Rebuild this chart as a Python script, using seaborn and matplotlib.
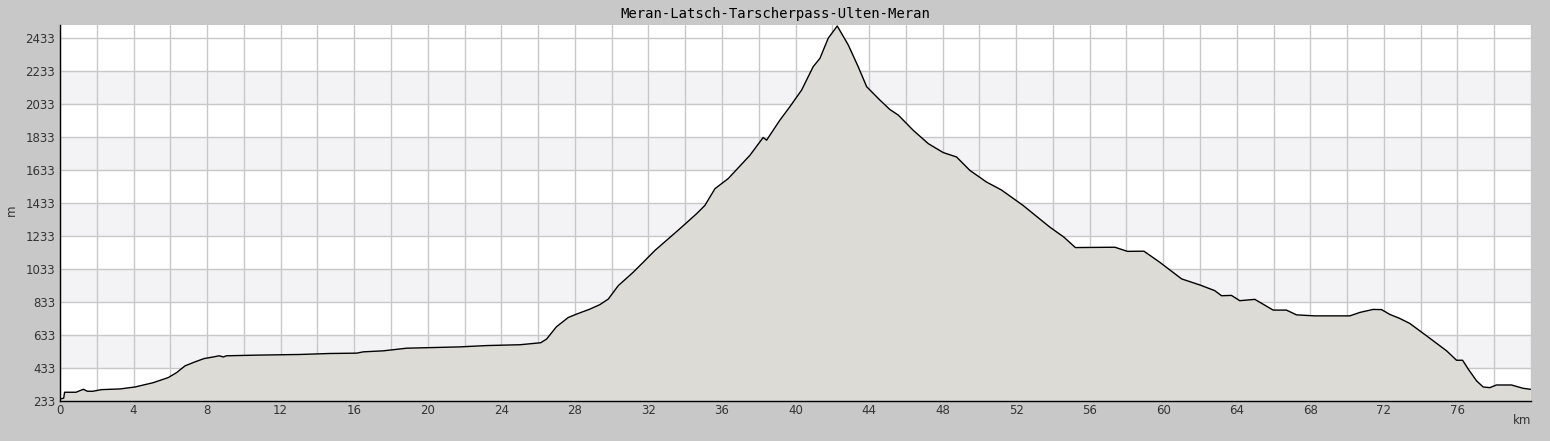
import numpy as np
import pandas as pd
import matplotlib
matplotlib.use("Agg")
import matplotlib.pyplot as plt
import seaborn as sns
from matplotlib.ticker import MultipleLocator, FixedLocator, FuncFormatter

title = "Meran-Latsch-Tarscherpass-Ulten-Meran"

km = [0.0, 0.2, 0.25, 0.87, 1.27, 1.49, 1.78, 2.27, 3.26, 4.08, 5.07, 5.89, 6.34,
      6.80, 7.34, 7.83, 8.34, 8.66, 8.88, 9.06, 10.7, 13.05, 14.68, 16.13, 16.5,
      17.58, 18.85, 21.75, 23.2, 25.01, 26.14, 26.46, 27.0, 27.64, 28.1, 28.82,
      29.36, 29.82, 30.36, 31.17, 31.72, 32.35, 33.71, 34.62, 35.07, 35.62, 36.34,
      37.52, 38.24, 38.43, 39.15, 39.69, 40.33, 40.96, 41.33, 41.78, 42.27, 42.87,
      43.41, 43.87, 44.59, 45.13, 45.59, 46.4, 47.22, 48.03, 48.76, 49.48, 50.39,
      51.2, 52.38, 53.83, 54.6, 55.22, 57.37, 58.05, 58.95, 59.81, 61.0, 62.0,
      62.8, 63.17, 63.71, 64.16, 64.98, 65.98, 66.7, 67.25, 68.24, 70.15, 70.7,
      71.41, 71.87, 72.32, 72.87, 73.41, 74.32, 75.41, 75.95, 76.28, 76.59, 77.04,
      77.4, 77.76, 78.12, 78.94, 79.57, 79.97]
elev = [245, 250, 286, 286, 304, 292, 292, 302, 306, 318, 344, 375, 405,
        446, 470, 490, 500, 507, 500, 507, 511, 515, 521, 523, 531,
        537, 553, 561, 569, 574, 586, 608, 683, 739, 760, 790,
        817, 851, 932, 1013, 1074, 1145, 1277, 1368, 1418, 1520, 1581,
        1722, 1830, 1814, 1935, 2016, 2117, 2259, 2310, 2432, 2506, 2391,
        2259, 2138, 2057, 2000, 1966, 1874, 1793, 1739, 1712, 1631, 1560,
        1512, 1418, 1287, 1226, 1163, 1165, 1140, 1141, 1074, 973, 936,
        902, 871, 873, 841, 849, 784, 784, 755, 749, 749, 770,
        788, 787, 758, 733, 703, 628, 537, 480, 480, 426, 355,
        318, 314, 330, 330, 310, 304]

y_min, y_max = 233, 2512
x_min, x_max = 0, 80

df = pd.DataFrame({"km": km, "m": elev})

sns.set_style("white")
plt.rcParams["font.family"] = ["DejaVu Sans"]

fig = plt.figure(figsize=(15.5, 4.41), dpi=100, facecolor="#c8c8c8")
ax = fig.add_axes([60 / 1550, 1 - 401 / 441, 1471 / 1550, 376 / 441])
ax.set_facecolor("white")

# alternating horizontal bands
for lo in range(433, 2433, 400):
    ax.axhspan(lo, lo + 200, color="#f3f2f5", zorder=0, lw=0)

ax.fill_between(df["km"], df["m"], y_min, color="#dcdbd6", zorder=2, lw=0)
sns.lineplot(data=df, x="km", y="m", ax=ax, color="black", lw=1.0, zorder=3)

ax.set_xlim(x_min, x_max)
ax.set_ylim(y_min, y_max)

ax.xaxis.set_major_locator(MultipleLocator(2))
ax.xaxis.set_minor_locator(MultipleLocator(1))
ax.xaxis.set_major_formatter(FuncFormatter(
    lambda v, p: f"{int(round(v))}" if int(round(v)) % 4 == 0 and v < x_max - 1 else ""))
ax.yaxis.set_major_locator(FixedLocator(np.arange(233, 2500, 200)))
ax.yaxis.set_minor_locator(FixedLocator(np.arange(333, 2500, 200)))

ax.grid(True, which="major", color="#c8c8c8", lw=1, zorder=1)
ax.set_axisbelow(True)
ax.tick_params(axis="both", which="both", direction="in", colors="black",
               labelcolor="#333333", labelsize=8.5)
ax.tick_params(axis="both", which="major", length=5, width=1)
ax.tick_params(axis="both", which="minor", length=3, width=1)
ax.tick_params(axis="x", which="major", length=4, pad=2)
ax.tick_params(axis="x", which="minor", length=4)

for s in ["top", "right"]:
    ax.spines[s].set_visible(False)
for s in ["left", "bottom"]:
    ax.spines[s].set_color("black")
    ax.spines[s].set_linewidth(1)

ax.set_xlabel("")
ax.set_ylabel("")
fig.text(11 / 1550, 1 - 210 / 441, "m", rotation=90, ha="center", va="center",
         fontsize=8.5, color="#333333")
fig.text(1522 / 1550, 1 - 421 / 441, "km", ha="center", va="center",
         fontsize=8.5, color="#333333")
fig.text(0.5, 1 - 14 / 441, title, ha="center", va="center",
         family="DejaVu Sans Mono", fontsize=10, color="black")

fig.savefig("out.png", dpi=100, facecolor=fig.get_facecolor())
